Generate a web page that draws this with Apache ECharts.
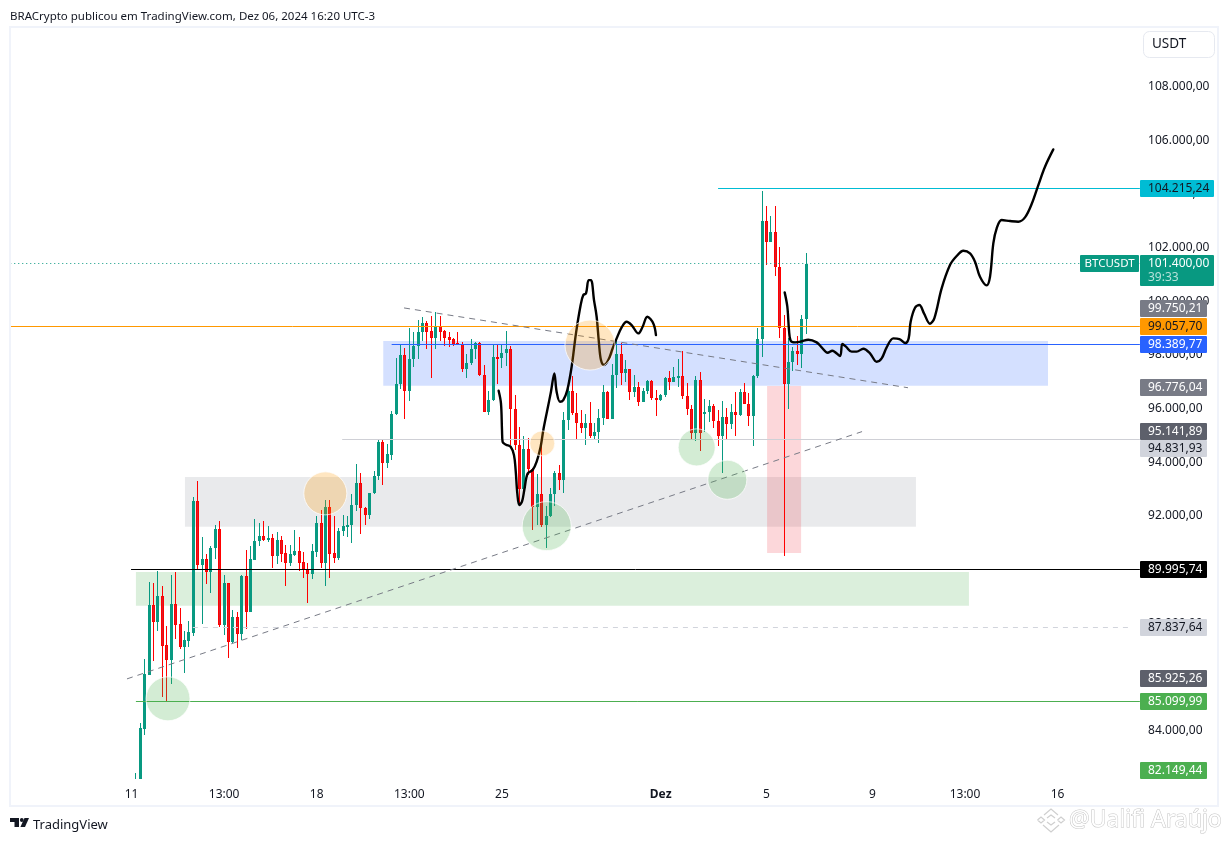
<!DOCTYPE html>
<html><head><meta charset="utf-8">
<style>html,body{margin:0;padding:0;background:#fff}#c{width:1229px;height:841px}</style>
<script src="https://cdn.jsdelivr.net/npm/echarts@6/dist/echarts.min.js"></script>
</head><body><div id="c"></div>
<script>
const titleText='BRACrypto publicou em TradingView.com, Dez 06, 2024 16:20 UTC-3';
const firstCandle=28, categoryCount=257;
const tickIndexes=[27,48,69,90,111,147,171,195,216,237];
const tickLabels=['11','13:00','18','13:00','25','Dez','5','9','13:00','16'];
const priceTicks=[84000,86000,88000,90000,92000,94000,96000,98000,100000,102000,104000,106000,108000];
// open, close, low, high
const ohlc=[
[81900,82100,81800,82400],[82100,84080,82000,84270],[84060,86110,83830,86650],[86080,88680,86080,89530],
[88680,88040,86590,89480],[88040,89010,87710,89940],[89010,87150,85260,89390],[87190,86630,85100,87900],
[86630,88720,85730,89800],[88720,87930,87410,89910],[87970,87110,87040,88570],[87110,87370,86140,87710],
[87340,87670,87110,88080],[87650,92550,87520,92700],[92550,90170,89980,93300],[90170,90390,87970,91210],
[90390,89910,89460,90580],[89910,90800,89120,90880],[90800,91510,90380,91660],[91510,87930,87860,91810],
[87930,89500,87560,89800],[89500,87300,86700,89500],[87300,88230,87260,88490],[88230,87600,87080,88420],
[87600,89760,87370,89800],[89760,88420,87780,90730],[88420,90390,88420,90880],[90350,91060,90350,91880],
[91060,91250,90880,91730],[91250,91100,91060,91810],[91100,91170,91030,91620],[91170,90500,90060,91320],
[90500,91100,90200,91400],[91100,90580,90280,91250],[90620,90240,89390,90910],[90240,90580,90130,90910],
[90540,90690,90500,91470],[90690,90240,89940,91210],[90280,90020,89680,90650],[90020,89830,88750,90240],
[89830,90690,89650,90950],[90650,91730,90470,91990],[91730,90240,90060,92220],[90240,92330,89390,92590],
[92330,90580,89680,92590],[90620,90430,90240,91990],[90430,91430,90350,91550],[91430,91620,91250,92030],
[91620,91660,91210,91990],[91660,92400,90990,92810],[92400,93220,92180,93930],[93220,92290,91320,93600],
[92290,92030,91660,92330],[92030,92850,91880,92850],[92850,93490,92810,93670],[93490,94750,93340,94830],
[94750,93970,93150,94860],[93970,94300,93800,94680],[94270,95800,94080,95910],[95800,96910,95760,97880],
[96910,97990,96730,98400],[97990,96650,95610,98260],[96650,97850,96280,98990],[97850,98330,97550,98850],
[98330,98850,97850,99300],[98850,99190,98520,99410],[99190,98850,98220,99260],[98890,98630,97140,99450],
[98630,99080,98220,99600],[99080,98850,98520,99450],[98890,98630,98330,98930],[98660,98550,98290,98850],
[98590,98400,98330,98630],[98440,98400,98370,98850],[98400,97470,97360,98480],[97470,97700,97140,98030],
[97700,98220,97620,98590],[98220,98440,97850,98480],[98440,97250,97210,98480],[97250,95870,95870,97620],
[95870,96320,95770,96650],[96320,97920,96280,98370],[97920,97880,96910,98400],[97880,98070,97510,98400],
[98070,98220,97580,98890],[98220,95980,94640,98330],[95980,94640,94450,96500],[94640,92990,92370,95310],
[92990,94490,92960,94980],[94490,93750,93520,94900],[93750,92330,91470,93780],[92330,92810,91660,93560],
[92810,91660,91590,94720],[91660,92000,90800,92370],[92000,92810,91960,93040],[92810,93600,92370,93670],
[93600,93340,92960,93900],[93340,95570,92850,95870],[95570,96650,95200,97060],[96650,95820,95750,97210],
[95820,95460,94830,96580],[95460,95290,95090,95950],[95290,95460,94640,95800],[95460,94980,94900,96240],
[94980,95130,94830,95460],[95130,95650,94720,95980],[95650,96620,95390,96880],[96620,95610,95610,96650],
[95610,97250,95610,97660],[97250,98030,96760,98590],[98030,97320,96880,98440],[97320,97470,96990,97810],
[97470,96620,96320,97470],[96620,96800,96430,97250],[96800,96240,96090,96990],[96240,96650,96240,96760],
[96650,97030,96540,97060],[97030,96390,96320,97060],[96390,96320,95720,96690],[96320,96500,96280,96540],
[96500,97140,96430,97170],[97140,96990,96690,97400],[96990,97170,96990,97550],[97170,97210,96800,97850],
[97210,96470,96350,98140],[96470,95980,95760,96950],[95980,95090,94830,96130],[95090,97060,94790,97210],
[97060,95090,94420,97360],[95830,95870,95130,96350],[95870,96090,95500,96320],[96090,95530,95270,96170],
[95530,94980,94600,95950],[94980,95680,93600,96280],[95680,95420,94860,96020],[95420,95870,95240,96170],
[95870,95760,94980,96620],[95760,96620,95720,96730],[96620,96170,96170,96950],[96170,95720,95350,96580],
[95720,97210,94600,97250],[97210,98590,97140,99000],[98590,102990,97920,104105],[102990,102200,101350,103550],
[102200,102580,102200,103170],[102580,101270,100940,103550],[101270,99000,98630,102020],[99000,96910,90510,99490],
[96910,97730,95980,98630],[97730,98140,97400,98290],[98140,98030,97620,98700],[98030,99340,97510,99490],
[99340,101400,98780,101800]];
// projected black paths [bar position, price]
const pathOne=[[110.12,96665],[110.65,96193],[110.88,95199],[111.03,94752],[111.78,94653],[112.84,94578],[113.59,94268],[113.97,93709],[114.35,92840],[114.8,92405],[115.41,92529],[115.93,92964],[116.69,93585],[117.82,93709],[118.73,94020],[119.63,94578],[120.24,95199],[121.14,95945],[121.97,96628],[122.73,97311],[123.25,96628],[124.01,96255],[124.76,96317],[125.67,96690],[126.65,97559],[127.63,98801],[128.69,99857],[129.29,100229],[129.9,100292],[130.5,100788],[131.03,100788],[131.71,100043],[132.31,99422],[132.84,98429],[133.29,97808],[133.97,97621],[134.95,97808],[135.93,98242],[136.84,98615],[137.97,99025],[139.1,99236],[140.23,99112],[141.74,98801],[142.72,99050],[143.78,99422],[145.14,99174],[145.74,98739]];
const pathTwo=[[174.88,100330],[175.48,99796],[175.86,98927],[176.24,98530],[177.22,98468],[178.5,98492],[180.23,98567],[182.12,98468],[183.25,98281],[184.61,98082],[185.67,98157],[187.4,97958],[187.93,98405],[188.76,98306],[190.05,98120],[191.18,98120],[192.69,98231],[194.2,98058],[195.71,97747],[196.84,97871],[197.97,98281],[199.48,98617],[200.84,98592],[202.2,98443],[202.95,98617],[203.4,99237],[204.39,99759],[205.37,99859],[206.42,99548],[207.78,99163],[208.76,99362],[210.42,100480],[212.31,101349],[213.82,101684],[215.33,101883],[216.84,101784],[217.97,101473],[219.1,100914],[220.61,100591],[221.37,100914],[222.12,102156],[222.88,102715],[224,103026],[225.9,102988],[227.78,102964],[229.29,103125],[230.8,103622],[232.31,104330],[233.82,105013],[235.7,105659]];
const risingTrend=[[25.98,85925.26],[192.4,95141.89]];
const fallingTrend=[[88.7,99750.21],[202.8,96776.04]];
// horizontal levels: price, start bar, end bar
const levelPrices=[101400,99057.7,98389.77,104215.24,94831.93,89995.74,87837.64,85099.99];
const levelStarts=[-0.45,-0.45,85.9,159.8,74.7,26.9,40.9,28];
const levelEnds=[255.3,255.3,255.3,255.3,255.3,255.3,253.7,255.3];
// zones: bar from, bar to, upper price, lower price
const zones=[[84,234.5,98515,96849],[39.1,204.6,93446,91594],[28,216.6,89906,88650],[170.9,178.6,96838,90614]];
const greenSpots=[[35.26,85183],[121,91620],[154.96,94553],[161.9,93346]];
const orangeSpots=[[70.88,92839],[120,94702],[130.8,98366]];
// price tags
const tagValues=[104215.24,99750.21,99057.70,98389.77,96776.04,95141.89,94831.93,89995.74,87837.64,85925.26,85099.99,82149.44];
const lastPrice=101400;
const lastCountdown='39:33';
const symbolName='BTCUSDT';
const unitName='USDT';

/* ---------- styling / layout ---------- */
const FONT='"Noto Sans",sans-serif';
const levelStyles=[
 {color:'#089981',dash:[1,3]},{color:'#ff9800'},{color:'#2962ff'},{color:'#00bcd4'},
 {color:'#cfd0d6'},{color:'#000000'},{color:'#d1d4dc',dash:[5,5]},{color:'#4caf50'}];
const zoneColors=['rgba(41,98,255,0.2)','rgba(120,123,134,0.16)','rgba(76,175,80,0.2)','rgba(242,54,69,0.2)'];
const spotSizesGreen=[44,49,37,39], spotSizesOrange=[43,25,50];
const tagStyles=[
 ['#00bcd4','#131722',74,0],['#787b86','#fff',67,0],['#ff9800','#131722',67,0],['#2962ff','#fff',67,0],
 ['#787b86','#fff',67,0],['#5d606b','#fff',67,0],['#d1d4dc','#131722',67,9],['#000000','#fff',67,0],
 ['#d1d4dc','#131722',67,0],['#5d606b','#fff',67,0],['#4caf50','#fff',67,0],['#4caf50','#fff',67,-10]];
const fmt=v=>v.toLocaleString('pt-BR',{minimumFractionDigits:2,maximumFractionDigits:2});

const categories=new Array(categoryCount).fill('');
tickIndexes.forEach((ix,k)=>categories[ix]=tickLabels[k]);
const candleData=ohlc.map((r,k)=>[firstCandle+k,r[0],r[1],r[2],r[3]]);

const chart=echarts.init(document.getElementById('c'),null,{renderer:'canvas'});
const lineBase={type:'line',xAxisIndex:1,yAxisIndex:0,symbol:'none',silent:true,animation:false,clip:true};
const series=[];
series.push({type:'custom',xAxisIndex:1,yAxisIndex:0,z:1,silent:true,animation:false,
 data:zones,encode:{x:[0,1],y:[2,3]},
 renderItem(p,api){
  const a=api.coord([api.value(0),api.value(2)]),b=api.coord([api.value(1),api.value(3)]);
  return {type:'rect',shape:{x:a[0],y:a[1],width:b[0]-a[0],height:b[1]-a[1]},style:{fill:zoneColors[p.dataIndex]}};
 }});
series.push({type:'custom',xAxisIndex:0,yAxisIndex:0,z:3,silent:true,animation:false,clip:true,
 data:candleData,dimensions:['bar','open','close','low','high'],encode:{x:0,y:[1,2,3,4]},
 renderItem(p,api){
  const i=api.value(0),o=api.value(1),c=api.value(2),l=api.value(3),h=api.value(4);
  const x=Math.floor(api.coord([i,o])[0]),up=c>=o;
  const top=Math.round(api.coord([i,Math.max(o,c)])[1]),bot=Math.max(Math.round(api.coord([i,Math.min(o,c)])[1]),top+2);
  const yh=Math.round(api.coord([i,h])[1]),yl=Math.round(api.coord([i,l])[1]);
  const col=up?'#089981':'#ff0000';
  const kids=[{type:'rect',shape:{x,y:yh,width:1,height:Math.max(yl-yh,1)},style:{fill:col}},
              {type:'rect',shape:{x:x-1,y:top,width:3,height:bot-top},style:{fill:col}}];
  if(!up&&bot-top>2)kids.push({type:'rect',shape:{x,y:top+1,width:1,height:bot-top-2},style:{fill:'#dc1c2a'}});
  return {type:'group',children:kids};
 }});
series.push({type:'custom',xAxisIndex:1,yAxisIndex:0,z:4,silent:true,animation:false,
 data:levelPrices.map((v,k)=>[levelStarts[k],levelEnds[k],v]),encode:{x:[0,1],y:2},
 renderItem(p,api){
  const a=api.coord([api.value(0),api.value(2)]),b=api.coord([api.value(1),api.value(2)]);
  const y=Math.floor(a[1])+0.5,s=levelStyles[p.dataIndex];
  return {type:'line',shape:{x1:a[0],y1:y,x2:b[0],y2:y},style:{stroke:s.color,lineWidth:1,lineDash:s.dash||null,fill:null}};
 }});
[risingTrend,fallingTrend].forEach(d=>series.push({...lineBase,z:4,data:d,lineStyle:{color:'#787b86',type:[6,5],width:1}}));
[pathOne,pathTwo].forEach(d=>series.push({...lineBase,z:5,data:d,smooth:0.35,lineStyle:{color:'#000',width:2.4,cap:'round',join:'round'}}));
series.push({type:'scatter',xAxisIndex:1,yAxisIndex:0,z:6,silent:true,animation:false,
 data:greenSpots.map((d,k)=>({value:d,symbolSize:spotSizesGreen[k]})),
 itemStyle:{color:'rgba(76,175,80,0.3)',borderColor:'rgba(255,255,255,0.9)',borderWidth:1}});
series.push({type:'scatter',xAxisIndex:1,yAxisIndex:0,z:6,silent:true,animation:false,
 data:orangeSpots.map((d,k)=>({value:d,symbolSize:spotSizesOrange[k]})),
 itemStyle:{color:'rgba(255,152,0,0.3)',borderColor:'rgba(255,255,255,0.9)',borderWidth:1}});

chart.setOption({
 animation:false,backgroundColor:'#fff',
 textStyle:{fontFamily:FONT},
 title:{text:titleText,left:5,top:6,textStyle:{fontFamily:FONT,fontSize:11.5,fontWeight:'normal',color:'#131722'}},
 grid:{left:10.22,top:27.07,width:1133.37,height:752,containLabel:false},
 xAxis:[
  {type:'category',data:categories,boundaryGap:true,axisLine:{show:false},axisTick:{show:false},splitLine:{show:false},
   axisLabel:{interval:0,margin:10,fontFamily:FONT,fontSize:12,color:'#131722',hideOverlap:false,
    formatter:v=>v==='Dez'?'{b|Dez}':v,rich:{b:{fontFamily:FONT,fontSize:12,fontWeight:'bold',color:'#131722'}}}},
  {type:'value',min:-0.458,max:256.14,show:false}
 ],
 yAxis:[{type:'value',position:'right',min:82191,max:110218,scale:true,
  axisLine:{show:false},axisTick:{show:false},splitLine:{show:false},
  axisLabel:{margin:4.5,fontFamily:FONT,fontSize:12,color:'#131722',padding:[0,0,3,0],formatter:fmt,customValues:priceTicks,hideOverlap:false}}],
 series
});

const py=v=>chart.convertToPixel({yAxisIndex:0},v);
const g=[];
const T=(x,y,text,fill,size,extra)=>({type:'text',z:101,silent:true,style:Object.assign({x,y,text,fill,fontFamily:FONT,fontSize:size||12,verticalAlign:'middle',align:'left'},extra||{})});
const R=(x,y,w,h,fill)=>({type:'rect',z:100,silent:true,shape:{x,y,width:w,height:h,r:1},style:{fill}});
tagValues.forEach((v,k)=>{const s=tagStyles[k],cy=Math.floor(py(v)+0.1)+s[3];
 g.push(R(1140,cy-8,s[2],17,s[0]));
 g.push(T(1148,cy+1,fmt(v),s[1]));});
const ly=Math.floor(py(lastPrice));
g.push(R(1140,ly-8,74,31,'#089981'));
g.push(T(1148,ly+1,fmt(lastPrice),'#ffffff'));
g.push(T(1148,ly+15,lastCountdown,'rgba(255,255,255,0.7)'));
g.push(R(1080,ly-8,59,17,'#089981'));
g.push(T(1084.5,ly+1,symbolName,'#ffffff',11.5));
// frame
g.push({type:'rect',z:90,silent:true,shape:{x:10,y:27,width:1208,height:779},style:{fill:null,stroke:'#f0f3fa',lineWidth:2}});
// currency button
g.push({type:'rect',z:100,silent:true,shape:{x:1143.5,y:31.5,width:71,height:26,r:6},style:{fill:'#fff',stroke:'#e6e9f0',lineWidth:1}});
g.push(T(1152,44,unitName,'#131722',13.5));
// logo
[[[10,818],[19,818],[19,827],[14.5,827],[14.5,822],[10,822]],[[24.5,818],[29,818],[25,827],[20.4,827]]].forEach(points=>
 g.push({type:'polygon',z:100,silent:true,shape:{points},style:{fill:'#131722'}}));
g.push({type:'circle',z:100,silent:true,shape:{cx:21.8,cy:820,r:1.9},style:{fill:'#131722'}});
g.push(T(33,825,'TradingView','#131722',13));
// watermark
[[[1037.5,820],[1041,817],[1044.5,820],[1041,823],[1037.5,820]],[[1057.5,820],[1061,817],[1064.5,820],[1061,823],[1057.5,820]],[[1044,815],[1051,809],[1058,815]],[[1047,818],[1051,815],[1055,818]],[[1047,822],[1051,825],[1055,822]],[[1043,825],[1051,832],[1059,825]]].forEach(points=>
 g.push({type:'polyline',z:100,silent:true,shape:{points},style:{fill:null,stroke:'#cfcfcf',lineWidth:1.2}}));
g.push(T(1069,820,'@Ualifi Araújo','#ffffff',23,{stroke:'#c4c4c4',lineWidth:1}));
chart.setOption({graphic:g});
</script></body></html>
